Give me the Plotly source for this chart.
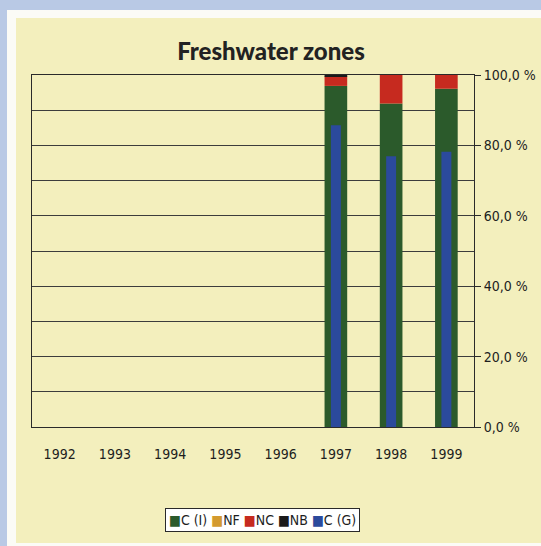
import plotly.graph_objects as go

# Share of samples per class, freshwater zones, 1992-1999 (percent)
years = ["1992", "1993", "1994", "1995", "1996", "1997", "1998", "1999"]
c_i = [0, 0, 0, 0, 0, 96.9, 91.9, 96.1]
nf = [0, 0, 0, 0, 0, 0.0, 0.0, 0.0]
nc = [0, 0, 0, 0, 0, 2.7, 8.1, 3.9]
nb = [0, 0, 0, 0, 0, 0.4, 0.0, 0.0]
c_g = [0, 0, 0, 0, 0, 85.7, 76.9, 78.2]

y_ticks = [0, 20, 40, 60, 80, 100]
y_tick_labels = ["0,0 %", "20,0 %", "40,0 %", "60,0 %", "80,0 %", "100,0 %"]

colors = {
    "C (I)": "#2b5a2b",
    "NF": "#d39a2e",
    "NC": "#c62a1f",
    "NB": "#1a1a1a",
    "C (G)": "#2b4a9c",
}

NARROW = "DejaVu Sans Condensed, Liberation Sans Narrow, sans-serif"

W, H = 541, 546
ML, MR, MT, MB = 32, 67, 75, 119
PW, PH = W - ML - MR, H - MT - MB


def px_x(px):
    return (px - ML) / PW


def px_y(py):
    return (H - MB - py) / PH


fig = go.Figure()

# stacked classes drawn with explicit bases so C (G) can overlay them
stack = [("C (I)", c_i), ("NF", nf), ("NC", nc), ("NB", nb)]
base = [0.0] * len(years)
for name, vals in stack:
    fig.add_trace(go.Bar(
        x=years, y=vals, base=list(base), name=name, width=0.41,
        marker=dict(color=colors[name], line=dict(width=0)),
        showlegend=False,
    ))
    base = [b + v for b, v in zip(base, vals)]

fig.add_trace(go.Bar(
    x=years, y=c_g, base=[0] * len(years), name="C (G)", width=0.18,
    marker=dict(color=colors["C (G)"], line=dict(width=0)),
    showlegend=False,
))

# page background: blue surround, white frame, pale yellow panel
shapes = [
    dict(type="rect", xref="paper", yref="paper", layer="below",
         x0=px_x(7), x1=px_x(W + 5), y0=px_y(H + 5), y1=px_y(10),
         fillcolor="#fbfbf6", line=dict(width=0)),
    dict(type="rect", xref="paper", yref="paper", layer="below",
         x0=px_x(16), x1=px_x(W + 5), y0=px_y(543), y1=px_y(18),
         fillcolor="#f3efbd", line=dict(width=0)),
]

legend_text = " ".join(
    f"<span style='color:{colors[k]}'>■</span>{k}" for k in ["C (I)", "NF", "NC", "NB", "C (G)"]
)

fig.update_layout(
    width=W, height=H,
    margin=dict(l=ML, r=MR, t=MT, b=MB, autoexpand=False),
    paper_bgcolor="#b9c9e5",
    plot_bgcolor="#d4d4d2",
    barmode="overlay",
    shapes=shapes,
    font=dict(family=NARROW, size=14, color="#1e1e1e"),
    title=dict(
        text="Freshwater zones",
        x=271 / W, xref="container", xanchor="center",
        y=1 - 52 / H, yref="container", yanchor="middle",
        font=dict(family="Lato, Open Sans, sans-serif", size=24, weight=900, color="#222222"),
    ),
    xaxis=dict(
        type="category", categoryorder="array", categoryarray=years,
        showgrid=False, ticks="", ticklabelstandoff=14, automargin=False,
        showline=True, linecolor="#2a2a2a", linewidth=1, mirror=True,
        tickfont=dict(size=14),
    ),
    yaxis=dict(
        side="right", range=[0, 100], tickvals=y_ticks, ticktext=y_tick_labels,
        showgrid=True, gridcolor="#3c3c3c", gridwidth=1, automargin=False,
        minor=dict(dtick=10, showgrid=True, gridcolor="#3c3c3c", gridwidth=1),
        ticks="outside", ticklen=6, tickcolor="#2a2a2a",
        showline=True, linecolor="#2a2a2a", linewidth=1, mirror=True,
        zeroline=False, tickfont=dict(size=14),
    ),
    annotations=[dict(
        text=legend_text, xref="paper", yref="paper",
        x=px_x(262), y=px_y(520), xanchor="center", yanchor="middle",
        showarrow=False, bgcolor="#ffffff", bordercolor="#2a2a2a",
        borderwidth=1, borderpad=3,
        font=dict(family=NARROW, size=14, color="#1e1e1e"),
    )],
)

fig.write_html("out.html")
